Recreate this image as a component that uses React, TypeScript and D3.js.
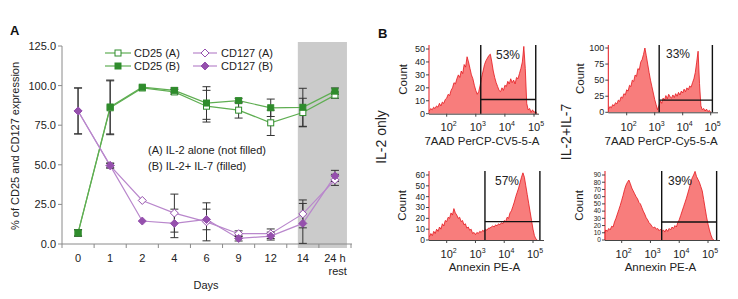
import React from "react";
import * as d3 from "d3";

// ---- panel A data ----
const days = ["0", "1", "2", "4", "6", "9", "12", "14", "24 h"];
const cd25A = [7, 86, 98.5, 96, 87, 84.5, 76.5, 83, 94];
const cd25AErr = [2, 17, 0, 1.5, 10, 5, 8, 9, 2];
const cd25B = [7, 86.5, 99, 97, 89, 90.5, 86, 86.3, 96.5];
const cd25BErr = [2, 17, 0, 1.5, 10.3, 1.5, 5.5, 12, 2];
const cd127A = [84, 49.5, 27.5, 19.5, 14, 6.5, 6.5, 19, 40.5];
const cd127AErr = [14.5, 1.5, 0, 12, 12, 1.8, 3, 8.8, 3.5];
const cd127B = [84, 49.5, 14.5, 13, 15.5, 3.5, 5, 13, 43];
const cd127BErr = [14.5, 1.5, 0, 9, 6.5, 1.6, 2.5, 12.6, 3.5];
const yTicksA = [0, 25, 50, 75, 100, 125];

// ---- panel B data (counts per 0.05-decade bin) ----
const il2_7aad = [2, 4, 3, 5, 4, 6, 5, 8, 6, 9, 8, 11, 12, 15, 14, 18, 20, 24, 23, 27,
  30, 28, 33, 31, 38, 36, 44, 40, 35, 30, 27, 22, 18, 15, 17, 22, 28, 33, 38, 41,
  43, 45, 46, 40, 33, 28, 24, 21, 18, 17, 20, 18, 22, 21, 25, 23, 27, 24, 26, 23,
  28, 27, 31, 35, 40, 52, 35, 8, 3, 4, 1, 3, 1, 2, 0];
const il7_7aad = [5, 9, 7, 12, 10, 15, 13, 19, 17, 24, 22, 29, 27, 35, 33, 42, 40, 50, 48, 58,
  56, 68, 66, 78, 82, 90, 100, 88, 75, 62, 50, 40, 30, 20, 12, 4, 10, 18, 14, 22,
  19, 26, 21, 28, 24, 22, 27, 23, 29, 25, 31, 27, 33, 30, 36, 32, 38, 35, 41, 39,
  46, 52, 62, 78, 95, 45, 10, 4, 6, 2, 5, 1, 3, 0];
const il2_annexin = [3, 6, 4, 8, 6, 10, 8, 12, 10, 15, 13, 18, 17, 21, 20, 25, 23, 29, 25, 23,
  20, 21, 17, 18, 14, 15, 11, 12, 9, 10, 6, 7, 5, 7, 6, 8, 7, 9, 8, 10,
  9, 11, 11, 12, 13, 12, 14, 13, 15, 14, 16, 15, 18, 17, 21, 20, 25, 27, 31, 35,
  40, 44, 48, 53, 58, 62, 58, 50, 42, 34, 26, 18, 10, 4, 1, 0];
const il7_annexin = [10, 14, 12, 16, 14, 19, 18, 25, 30, 36, 42, 48, 55, 62, 70, 76, 80, 83, 78, 72,
  68, 64, 60, 57, 52, 50, 45, 40, 36, 31, 28, 24, 22, 19, 17, 18, 15, 16, 13, 15,
  12, 14, 11, 15, 12, 16, 14, 18, 16, 20, 18, 24, 28, 34, 40, 46, 52, 58, 65, 72,
  80, 86, 90, 95, 88, 84, 80, 74, 68, 56, 44, 32, 22, 14, 7, 2, 0];
const gatePcts = ["53%", "33%", "57%", "39%"];
const gateLevels = [11, 19, 17, 25];

const FONT = "'Liberation Sans', Arial, Helvetica, sans-serif";
const GREEN_LINE = "#5fae52";
const GREEN_MARK = "#2f8c2c";
const PURPLE_LINE = "#b987cc";
const PURPLE_MARK = "#9550ad";
const HIST_FILL = "#f87d7c";
const HIST_STROKE = "#e5151c";

type Hist = {
  data: number[]; start: number; yMax: number; yTicks: number[]; yFont: number;
  gate: [number, number]; level: number; pct: string; pctX: number; title: string;
  axisL: number; axisR: number; p2: number; p5: number; base: number; yTop: number;
  top: number; countX: number; tickY: number; titleY: number; pctY: number;
};

const hists: Hist[] = [
  { data: il2_7aad, start: 1.4, yMax: 50, yTicks: [0, 10, 20, 30, 40, 50], yFont: 9,
    gate: [3.17, 5.06], level: gateLevels[0], pct: gatePcts[0], pctX: 508, title: "7AAD PerCP-CV5-5-A",
    axisL: 429, axisR: 539, p2: 446.7, p5: 534, base: 113.7, yTop: 49, top: 45, countX: 407,
    tickY: 131, titleY: 145, pctY: 59 },
  { data: il7_7aad, start: 1.35, yMax: 100, yTicks: [0, 25, 50, 75, 100], yFont: 9,
    gate: [3.16, 5.06], level: gateLevels[1], pct: gatePcts[1], pctX: 678, title: "7AAD PerCP-Cy5-5-A",
    axisL: 608.3, axisR: 718, p2: 626.7, p5: 710.7, base: 112.3, yTop: 48, top: 45, countX: 584,
    tickY: 131, titleY: 145, pctY: 58 },
  { data: il2_annexin, start: 1.4, yMax: 60, yTicks: [0, 10, 20, 30, 40, 50, 60], yFont: 8.5,
    gate: [3.33, 5.24], level: gateLevels[2], pct: gatePcts[2], pctX: 507, title: "Annexin PE-A",
    axisL: 429, axisR: 544, p2: 446.7, p5: 533, base: 240, yTop: 175, top: 171, countX: 406,
    tickY: 258, titleY: 271, pctY: 185 },
  { data: il7_annexin, start: 1.4, yMax: 90, yTicks: [0, 10, 20, 30, 40, 50, 60, 70, 80, 90], yFont: 6.6,
    gate: [3.39, 5.3], level: gateLevels[3], pct: gatePcts[3], pctX: 680, title: "Annexin PE-A",
    axisL: 605, axisR: 720, p2: 621.7, p5: 708, base: 240, yTop: 175, top: 171, countX: 583,
    tickY: 258, titleY: 271, pctY: 185 },
];

const Square = ({ x, y, color, filled }: any) => (
  <rect x={x - 3} y={y - 3} width={6} height={6} fill={filled ? color : "#fff"} stroke={color} strokeWidth={1} />
);
const Diamond = ({ x, y, color, filled }: any) => (
  <path d={`M${x},${y - 4}L${x + 4},${y}L${x},${y + 4}L${x - 4},${y}Z`} fill={filled ? color : "#fff"} stroke={color} strokeWidth={1} />
);

function HistPanel({ h }: { h: Hist }) {
  const x = d3.scaleLog().domain([100, 100000]).range([h.p2, h.p5]);
  const y = d3.scaleLinear().domain([0, h.yMax]).range([h.base, h.yTop]);
  const pts = h.data.map((c, i) => [Math.pow(10, h.start + i * 0.05), c] as [number, number]);
  const area = d3.area<[number, number]>().x(d => x(d[0])).y0(h.base).y1(d => y(d[1]));
  const line = d3.line<[number, number]>().x(d => x(d[0])).y(d => y(d[1]));
  const g1 = x(Math.pow(10, h.gate[0]));
  const g2 = x(Math.pow(10, h.gate[1]));
  const decades = [2, 3, 4, 5];
  return (
    <g fontFamily={FONT}>
      <path d={area(pts) ?? ""} fill={HIST_FILL} />
      <path d={line(pts) ?? ""} fill="none" stroke={HIST_STROKE} strokeWidth={0.8} />
      <line x1={h.axisL} x2={h.axisL} y1={h.top} y2={h.base} stroke={HIST_STROKE} strokeWidth={1} />
      <line x1={h.axisL} x2={h.axisR} y1={h.base + 0.5} y2={h.base + 0.5} stroke="#444" strokeWidth={1} />
      {h.yTicks.map(t => (
        <g key={t}>
          <line x1={h.axisL - 3} x2={h.axisL} y1={y(t)} y2={y(t)} stroke="#444" />
          <text x={h.axisL - 4} y={y(t) + h.yFont * 0.35} fontSize={h.yFont} textAnchor="end" fill="#222">{t}</text>
        </g>
      ))}
      {decades.map(e => (
        <g key={e}>
          <line x1={x(Math.pow(10, e))} x2={x(Math.pow(10, e))} y1={h.base} y2={h.base + 3} stroke="#444" />
          <text x={x(Math.pow(10, e)) + 2} y={h.tickY} fontSize={11} textAnchor="middle" fill="#222">
            10<tspan dy={-5} fontSize={7}>{e}</tspan>
          </text>
        </g>
      ))}
      <line x1={g1} x2={g1} y1={h.top} y2={h.base} stroke="#111" strokeWidth={1.4} />
      <line x1={g2} x2={g2} y1={h.top} y2={h.base} stroke="#111" strokeWidth={1.4} />
      <line x1={g1} x2={g2} y1={y(h.level)} y2={y(h.level)} stroke="#111" strokeWidth={1.4} />
      <text x={h.pctX} y={h.pctY} fontSize={12} textAnchor="middle" fill="#222">{h.pct}</text>
      <text x={(h.axisL + h.axisR) / 2 - 2} y={h.titleY} fontSize={11.5} textAnchor="middle" fill="#222">{h.title}</text>
      <text transform={`translate(${h.countX},${(h.base + h.top) / 2}) rotate(-90)`} fontSize={11.5} textAnchor="middle" fill="#222">Count</text>
    </g>
  );
}

export default function App() {
  const x = d3.scaleBand<string>().domain(days).range([62, 351]);
  const cx = (d: string) => (x(d) ?? 0) + x.bandwidth() / 2;
  const y = d3.scaleLinear().domain([0, 125]).range([244, 46]);
  const line = d3.line<number>().x((_, i) => cx(days[i])).y(v => y(v));

  const series = [
    { vals: cd25A, err: cd25AErr, line: GREEN_LINE, mark: GREEN_MARK, shape: "sq", filled: false },
    { vals: cd25B, err: cd25BErr, line: GREEN_LINE, mark: GREEN_MARK, shape: "sq", filled: true },
    { vals: cd127A, err: cd127AErr, line: PURPLE_LINE, mark: PURPLE_MARK, shape: "di", filled: false },
    { vals: cd127B, err: cd127BErr, line: PURPLE_LINE, mark: PURPLE_MARK, shape: "di", filled: true },
  ];
  const bounds = x.domain().map(d => x(d) ?? 0).concat([x.range()[1]]);

  return (
    <svg width={738} height={299} style={{ position: "absolute", left: 0, top: 0, background: "#fff" }} fontFamily={FONT}>
      {/* panel A */}
      <text x={10} y={35} fontSize={13} fontWeight="bold" fill="#111">A</text>
      <rect x={cx("14") - 5} y={42} width={cx("24 h") - cx("14") + 17} height={206} fill="#cbcbcb" />
      <line x1={62} x2={62} y1={y(125)} y2={y(0)} stroke="#8a8a8a" />
      <line x1={62} x2={352} y1={y(0)} y2={y(0)} stroke="#8a8a8a" />
      {yTicksA.map(t => (
        <g key={t}>
          <line x1={58} x2={62} y1={y(t)} y2={y(t)} stroke="#8a8a8a" />
          <text x={56} y={y(t) + 4} fontSize={11} textAnchor="end" fill="#222">{t.toFixed(1)}</text>
        </g>
      ))}
      {bounds.map((b, i) => (
        <line key={i} x1={b} x2={b} y1={y(0)} y2={y(0) + 4} stroke="#8a8a8a" />
      ))}
      {days.map(d => (
        d === "24 h" ? (
          <g key={d}>
            <text x={cx(d)} y={262} fontSize={11} textAnchor="middle" fill="#222">24 h</text>
            <text x={cx(d) + 12} y={275} fontSize={11} textAnchor="end" fill="#222">rest</text>
          </g>
        ) : (
          <text key={d} x={cx(d)} y={262} fontSize={11} textAnchor="middle" fill="#222">{d}</text>
        )
      ))}
      <text x={206} y={289} fontSize={11} textAnchor="middle" fill="#222">Days</text>
      <text transform="translate(19,146) rotate(-90)" fontSize={11} textAnchor="middle" fill="#222">% of CD25 and CD127 expression</text>

      {series.map((s, k) => (
        <path key={k} d={line(s.vals) ?? ""} fill="none" stroke={s.line} strokeWidth={1.2} />
      ))}
      {series.map((s, k) => (
        <g key={k} stroke="#333" strokeWidth={1}>
          {s.vals.map((v, i) => s.err[i] > 0 ? (
            <g key={i}>
              <line x1={cx(days[i])} x2={cx(days[i])} y1={y(v + s.err[i])} y2={y(v - s.err[i])} />
              <line x1={cx(days[i]) - 4} x2={cx(days[i]) + 4} y1={y(v + s.err[i])} y2={y(v + s.err[i])} />
              <line x1={cx(days[i]) - 4} x2={cx(days[i]) + 4} y1={y(v - s.err[i])} y2={y(v - s.err[i])} />
            </g>
          ) : null)}
        </g>
      ))}
      {series.map((s, k) => (
        <g key={k}>
          {s.vals.map((v, i) => s.shape === "sq"
            ? <Square key={i} x={cx(days[i])} y={y(v)} color={s.mark} filled={s.filled} />
            : <Diamond key={i} x={cx(days[i])} y={y(v)} color={s.mark} filled={s.filled} />)}
        </g>
      ))}

      {/* legend */}
      <g fontSize={11} fill="#222">
        <line x1={105} x2={131} y1={53} y2={53} stroke={GREEN_LINE} strokeWidth={1.2} />
        <Square x={118} y={53} color={GREEN_MARK} filled={false} />
        <text x={134} y={57}>CD25 (A)</text>
        <line x1={105} x2={131} y1={66} y2={66} stroke={GREEN_LINE} strokeWidth={1.2} />
        <Square x={118} y={66} color={GREEN_MARK} filled={true} />
        <text x={134} y={70}>CD25 (B)</text>
        <line x1={193} x2={217} y1={53} y2={53} stroke={PURPLE_LINE} strokeWidth={1.2} />
        <Diamond x={205} y={53} color={PURPLE_MARK} filled={false} />
        <text x={221} y={57}>CD127 (A)</text>
        <line x1={193} x2={217} y1={66} y2={66} stroke={PURPLE_LINE} strokeWidth={1.2} />
        <Diamond x={205} y={66} color={PURPLE_MARK} filled={true} />
        <text x={221} y={70}>CD127 (B)</text>
        <text x={148} y={154}>(A) IL-2 alone (not filled)</text>
        <text x={148} y={170}>(B) IL-2+ IL-7 (filled)</text>
      </g>

      {/* panel B */}
      <text x={378} y={38} fontSize={13} fontWeight="bold" fill="#111">B</text>
      <text transform="translate(386,137) rotate(-90)" fontSize={14} textAnchor="middle" fill="#222">IL-2 only</text>
      <text transform="translate(571,132) rotate(-90)" fontSize={14} textAnchor="middle" fill="#222">IL-2+IL-7</text>
      {hists.map((h, i) => <HistPanel key={i} h={h} />)}
    </svg>
  );
}
